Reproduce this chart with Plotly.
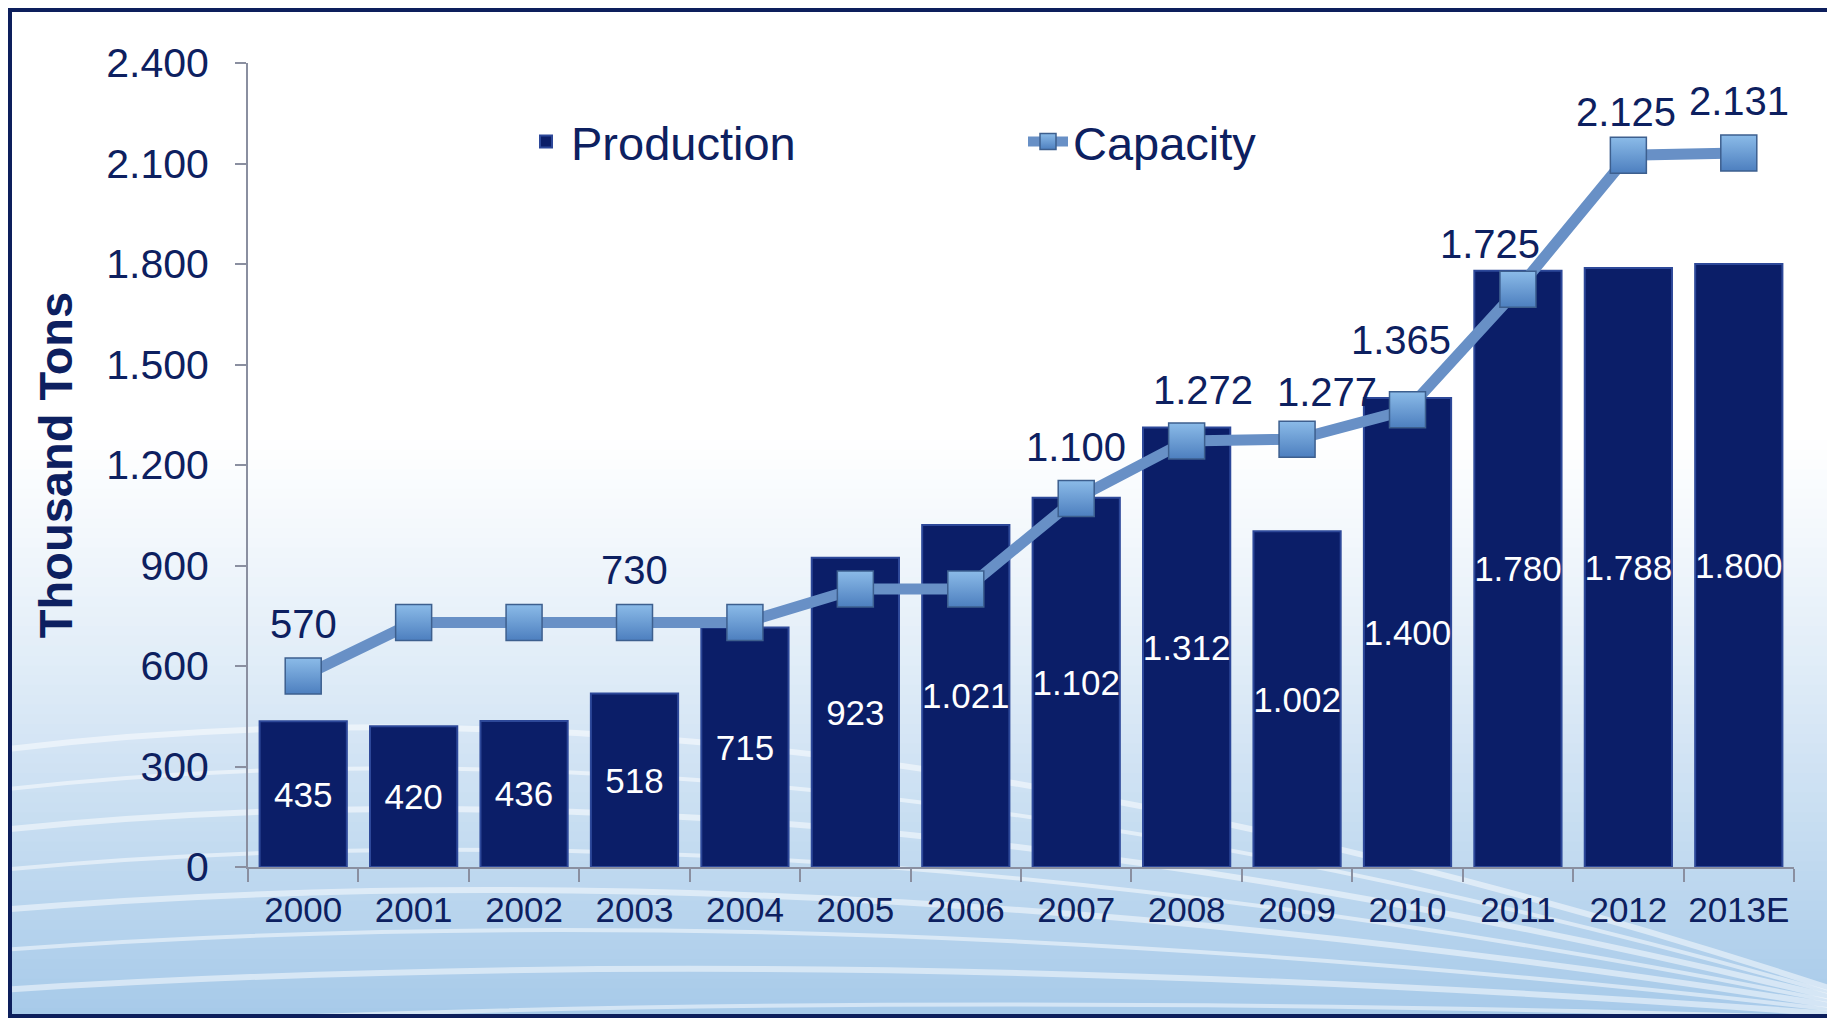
import plotly.graph_objects as go

# ---------------- data ----------------
years = ['2000', '2001', '2002', '2003', '2004', '2005', '2006',
         '2007', '2008', '2009', '2010', '2011', '2012', '2013E']
production = [435, 420, 436, 518, 715, 923, 1021, 1102, 1312, 1002, 1400, 1780, 1788, 1800]
capacity = [570, 730, 730, 730, 730, 830, 830, 1100, 1272, 1277, 1365, 1725, 2125, 2131]
# capacity points that carry a value label, with their label offset (px)
capacity_label_offsets = {
    '2000': (0, 52), '2003': (0, 52), '2007': (0, 52), '2008': (16, 51),
    '2009': (30, 47), '2010': (-7, 70), '2011': (-28, 45), '2012': (-2, 43),
    '2013E': (0, 52),
}
y_ticks = [0, 300, 600, 900, 1200, 1500, 1800, 2100, 2400]

# ---------------- geometry (page body has an 8px margin) ----------------
OFF = 8
W, H = 1835 - OFF, 1018 - OFF
ML, MR, MT, MB = 248 - OFF, 41, 63 - OFF, 151
PW, PH = W - ML - MR, H - MT - MB

def px_x(x):  # page pixel -> paper
    return (x - OFF - ML) / PW

def px_y(y):
    return (H - MB - (y - OFF)) / PH

NAVY = '#0d2060'
FONT = 'Liberation Sans, Arial, sans-serif'

fig = go.Figure()

fig.add_trace(go.Bar(
    x=years, y=production, name='Production',
    marker=dict(color='#0b1e68', line=dict(color='#2d4899', width=2)),
    texttemplate='%{y:,}', textposition='inside', insidetextanchor='middle',
    textangle=0,
    textfont=dict(color='white', size=35, family=FONT),
    constraintext='none', cliponaxis=False,
))

fig.add_trace(go.Scatter(
    x=years, y=capacity, name='Capacity', mode='lines+markers',
    line=dict(color='#6890c6', width=11),
    marker=dict(symbol='square', size=36, color='#8bbbe8',
                gradient=dict(type='vertical', color='#4d7fbf'),
                line=dict(color='#3d5f8e', width=1.5)),
    cliponaxis=False,
))

annotations = []
for idx, (yr, val) in enumerate(zip(years, capacity)):
    if yr in capacity_label_offsets:
        dx, dy = capacity_label_offsets[yr]
        annotations.append(dict(
            x=idx, y=val, xref='x', yref='y', text=f'{val:,}'.replace(',', '.'),
            showarrow=False, xshift=dx, yshift=dy,
            font=dict(size=40, color=NAVY, family=FONT)))

# ---------------- background ----------------
shapes = []
x0p, x1p = px_x(OFF), px_x(OFF + W)
top_white = 430
n = 60
def lerp(a, b, t):
    return int(round(a + (b - a) * t))
c_top = (255, 255, 255)
c_bot = (166, 201, 233)
for i in range(n):
    ya = top_white + (1018 - top_white) * i / n
    yb = top_white + (1018 - top_white) * (i + 1) / n + 1
    t = ((i + 0.5) / n) ** 1.15
    col = 'rgb(%d,%d,%d)' % tuple(lerp(c_top[k], c_bot[k], t) for k in range(3))
    shapes.append(dict(type='rect', xref='paper', yref='paper',
                       x0=x0p, x1=x1p, y0=px_y(yb), y1=px_y(ya),
                       fillcolor=col, line=dict(width=0), layer='below'))

# swoosh lines
for i in range(8):
    sx, sy = 0, 750 + 40 * i
    cx, cy = 800, 650 + 48 * i
    ex, ey = 1835, 990 + 4 * i
    path = 'M %f,%f Q %f,%f %f,%f' % (px_x(sx), px_y(sy), px_x(cx), px_y(cy), px_x(ex), px_y(ey))
    shapes.append(dict(type='path', xref='paper', yref='paper', path=path,
                       line=dict(color='rgba(255,255,255,0.5)', width=4 if i % 2 else 6),
                       layer='below'))

# frame
shapes.append(dict(type='rect', xref='paper', yref='paper',
                   x0=px_x(OFF + 2), x1=px_x(1835 - 2), y0=px_y(1018 - 2), y1=px_y(OFF + 2),
                   line=dict(color='#0d1f5c', width=4), fillcolor='rgba(0,0,0,0)',
                   layer='above'))

fig.update_layout(
    width=W, height=H,
    margin=dict(l=ML, r=MR, t=MT, b=MB, pad=0),
    paper_bgcolor='white', plot_bgcolor='rgba(0,0,0,0)',
    separators=',.',
    bargap=0.21,
    font=dict(family=FONT, color=NAVY),
    showlegend=True,
    legend=dict(orientation='h', x=px_x(521), y=px_y(142), xanchor='left', yanchor='middle',
                font=dict(size=47, color=NAVY, family=FONT),
                bgcolor='rgba(0,0,0,0)', entrywidth=447, itemwidth=40, traceorder='normal'),
    xaxis=dict(type='category', range=[-0.5, len(years) - 0.5], showgrid=False,
               showline=True, linecolor='#8a8fa0', linewidth=2,
               ticks='outside', tickson='boundaries', ticklen=13, tickcolor='#8a8fa0', tickwidth=2,
               tickangle=0,
               tickfont=dict(size=35, color=NAVY, family=FONT), ticklabelstandoff=11),
    yaxis=dict(range=[0, 2400], tickvals=y_ticks, tickformat=',', showgrid=False,
               showline=True, linecolor='#8a8fa0', linewidth=2, zeroline=False,
               ticks='outside', ticklen=11, tickcolor='#8a8fa0', tickwidth=2,
               tickfont=dict(size=41, color=NAVY, family=FONT), ticklabelstandoff=18,
               title=dict(text='<b>Thousand Tons</b>', standoff=19,
                          font=dict(size=47, color=NAVY, family=FONT))),
    annotations=annotations,
    shapes=shapes,
    hovermode=False,
)

fig.write_html('out.html')
